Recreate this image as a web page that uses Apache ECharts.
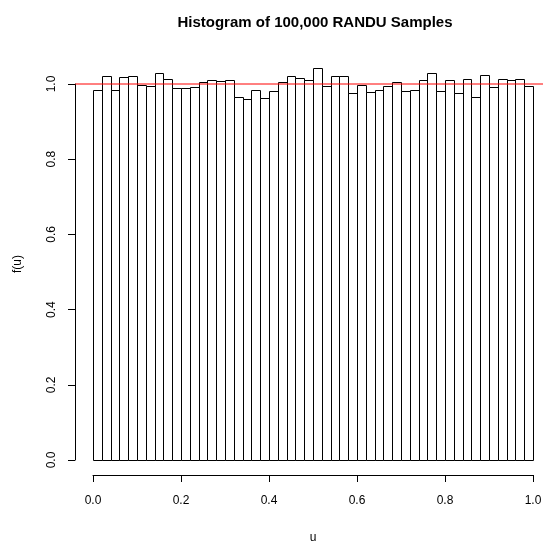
<!DOCTYPE html>
<html lang="en">

<head>
    <meta charset="UTF-8">
    <title>Histogram of 100,000 RANDU Samples</title>
    <style>
        html, body { margin: 0; padding: 0; background: #fff; }
    </style>
</head>

<body>
    <div id="chart" style="width:543px; height:545px;"></div>
    <script src="https://cdn.jsdelivr.net/npm/echarts@6/dist/echarts.min.js"></script>
    <script>
        // 50 bins of width 0.02 on [0, 1], density values
        const binStart = 0
        const binWidth = 0.02
        const density = [
            0.983, 1.021, 0.983, 1.019, 1.022, 0.997, 0.994, 1.028, 1.014, 0.990,
            0.990, 0.993, 1.006, 1.010, 1.008, 1.011, 0.965, 0.959, 0.983, 0.962,
            0.982, 1.006, 1.022, 1.016, 1.011, 1.042, 0.996, 1.022, 1.020, 0.977,
            0.998, 0.979, 0.983, 0.994, 1.005, 0.981, 0.985, 1.010, 1.030, 0.981,
            1.011, 0.977, 1.014, 0.966, 1.025, 0.993, 1.014, 1.011, 1.014, 0.995
        ]
        // uniform density f(u) = 1, drawn across the whole plot region (R pads 4%)
        const refU = [-0.04, 1.04]
        const refF = [1, 1]
        const xTicks = [0, 0.2, 0.4, 0.6, 0.8, 1.0]
        const yTicks = [0, 0.2, 0.4, 0.6, 0.8, 1.0]

        const font = 'Liberation Sans, Arial, Helvetica, sans-serif'
        const myChart = echarts.init(document.getElementById('chart'), null, { renderer: 'canvas' })

        const barData = density.map((d, i) => [i, d])

        // plot area: u in [0,1] -> x 93..533 px, f in [0,1] -> y 460..84 px
        const plotLeft = 93, plotWidth = 440, plotTop = 84, plotHeight = 376
        const pad = 0.04

        const option = {
            backgroundColor: '#fff',
            animation: false,
            title: {
                text: 'Histogram of 100,000 RANDU Samples',
                left: 310,
                top: 10,
                textAlign: 'center',
                textStyle: { fontFamily: font, fontSize: 15, fontWeight: 'bold', color: '#000' }
            },
            grid: [
                { left: plotLeft, width: plotWidth, top: plotTop, height: plotHeight, outerBoundsMode: 'none' },
                // wider grid for the reference line, same scale extended by the padding
                {
                    left: plotLeft - pad * plotWidth, width: plotWidth * (1 + 2 * pad),
                    top: plotTop, height: plotHeight, outerBoundsMode: 'none'
                }
            ],
            xAxis: [{
                type: 'value',
                min: xTicks[0],
                max: xTicks[xTicks.length - 1],
                interval: 0.2,
                offset: 15,
                name: 'u',
                nameLocation: 'middle',
                nameGap: 57,
                nameTextStyle: { fontFamily: font, fontSize: 12, color: '#000' },
                axisLine: { show: true, onZero: false, lineStyle: { color: '#000', width: 1 } },
                axisTick: { show: true, length: 7, lineStyle: { color: '#000' } },
                axisLabel: {
                    fontFamily: font, fontSize: 12, color: '#000', margin: 20,
                    formatter: v => v.toFixed(1)
                },
                splitLine: { show: false }
            }, {
                type: 'value',
                gridIndex: 1,
                min: refU[0],
                max: refU[1],
                show: false
            }],
            yAxis: [{
                type: 'value',
                min: yTicks[0],
                max: yTicks[yTicks.length - 1],
                interval: 0.2,
                offset: 18,
                name: 'f(u)',
                nameLocation: 'middle',
                nameGap: 51,
                nameTextStyle: { fontFamily: font, fontSize: 12, color: '#000', padding: [0, 0, 0, 16] },
                axisLine: { show: true, onZero: false, lineStyle: { color: '#000', width: 1 } },
                axisTick: { show: true, length: 7, lineStyle: { color: '#000' } },
                axisLabel: {
                    fontFamily: font, fontSize: 12, color: '#000', margin: 17, rotate: 90,
                    formatter: v => v.toFixed(1)
                },
                splitLine: { show: false }
            }, {
                type: 'value',
                gridIndex: 1,
                min: yTicks[0],
                max: yTicks[yTicks.length - 1],
                show: false
            }],
            series: [{
                type: 'custom',
                clip: false,
                data: barData,
                renderItem: function (params, api) {
                    const i = api.value(0)
                    const lo = binStart + i * binWidth
                    const p0 = api.coord([lo, 0])
                    const p1 = api.coord([lo + binWidth, api.value(1)])
                    return {
                        type: 'rect',
                        shape: {
                            x: Math.round(p0[0]) + 0.5,
                            y: Math.round(p1[1]) + 0.5,
                            width: Math.round(p1[0]) - Math.round(p0[0]),
                            height: Math.round(p0[1]) - Math.round(p1[1])
                        },
                        style: { fill: '#fff', stroke: '#000', lineWidth: 1 }
                    }
                }
            }, {
                type: 'line',
                xAxisIndex: 1,
                yAxisIndex: 1,
                clip: false,
                symbol: 'none',
                data: refU.map((u, i) => [u, refF[i]]),
                lineStyle: { color: '#ff0000', width: 1 },
                z: 5
            }]
        }

        myChart.setOption(option)
    </script>
</body>

</html>
